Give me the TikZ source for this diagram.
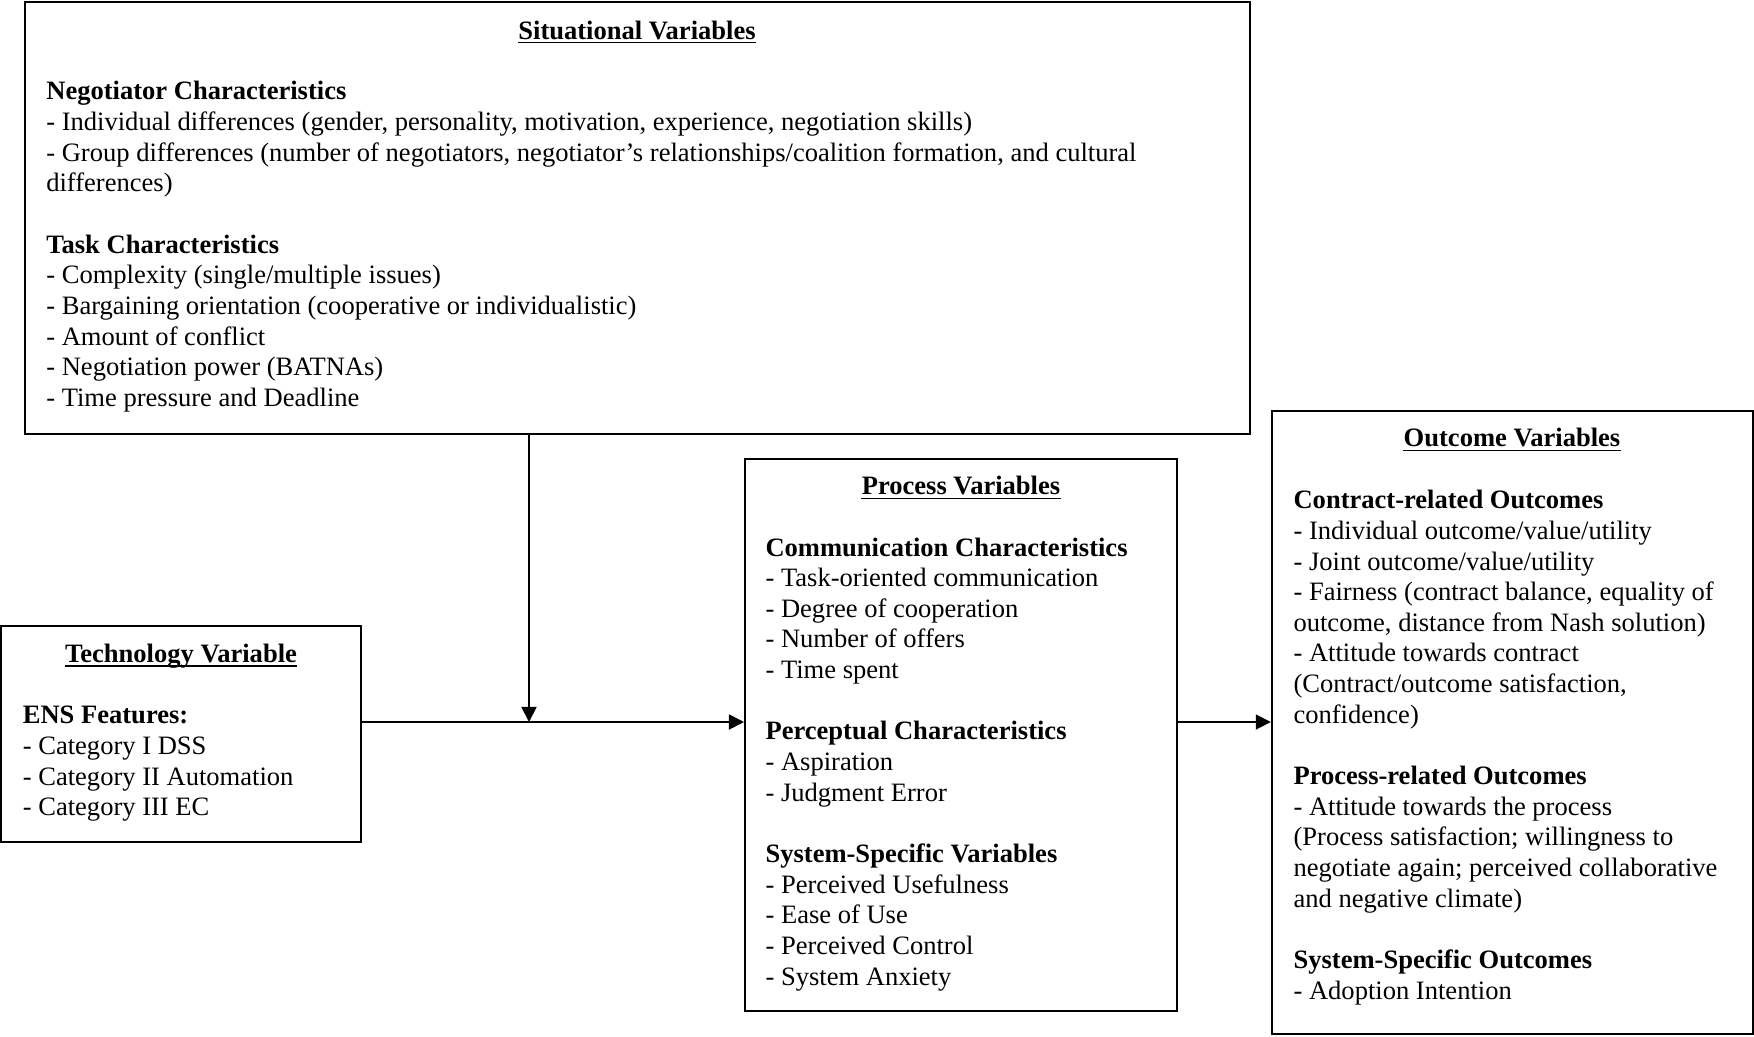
\documentclass[tikz,border=0pt]{standalone}
\usepackage{fontspec}
\setmainfont{Liberation Serif}
\usetikzlibrary{arrows.meta,fit}
\newcommand{\txtfont}{\fontsize{12pt}{13.85pt}\selectfont}
\begin{document}
\begin{tikzpicture}[x=0.452pt,y=-0.452pt,
  panel/.style={draw=black, line width=0.9pt, inner sep=0pt},
  heading/.style={font=\txtfont\bfseries, inner sep=0pt, anchor=base},
  body/.style={align=left, inner sep=0pt, anchor=base west, font=\txtfont},
  link/.style={line width=0.8pt, -{Triangle[length=6.8pt,width=6.8pt]}},
  uline/.style={line width=0.6pt}]
\useasboundingbox (0,0) rectangle (1754,1036);

% boxes
\node[panel, fit={(24.6,2.2) (1249.5,434.0)}] (sit) {};
\node[panel, fit={(1.1,626.4) (361.3,842.3)}] (tech) {};
\node[panel, fit={(745.0,458.6) (1176.8,1011.2)}] (proc) {};
\node[panel, fit={(1271.8,410.5) (1752.9,1033.6)}] (out) {};

% headings
\node[heading] (sitT) at (637,39) {Situational Variables};
\node[heading] (techT) at (181,662.3) {Technology Variable};
\node[heading] (procT) at (961,494.5) {Process Variables};
\node[heading] (outT) at (1512,446.4) {Outcome Variables};
\foreach \h in {sitT,techT,procT,outT}
  \draw[uline] ([yshift=-1.7pt]\h.base west) -- ([yshift=-1.7pt]\h.base east);

% contents (each node is placed by the baseline of its last line)
\node[body] (sitB) at (45.9,406.4) {\textbf{Negotiator Characteristics}\\
- Individual differences (gender, personality, motivation, experience, negotiation skills)\\
- Group differences (number of negotiators, negotiator’s relationships/coalition formation, and cultural\\
differences)\\[13.85pt]
\textbf{Task Characteristics}\\
- Complexity (single/multiple issues)\\
- Bargaining orientation (cooperative or individualistic)\\
- Amount of conflict\\
- Negotiation power (BATNAs)\\
- Time pressure and Deadline};

\node[body] (techB) at (22.4,815.7) {\textbf{ENS Features:}\\
- Category I DSS\\
- Category II Automation\\
- Category III EC};

\node[body] (procB) at (765.1,985) {\textbf{Communication Characteristics}\\
- Task-oriented communication\\
- Degree of cooperation\\
- Number of offers\\
- Time spent\\[13.85pt]
\textbf{Perceptual Characteristics}\\
- Aspiration\\
- Judgment Error\\[13.85pt]
\textbf{System-Specific Variables}\\
- Perceived Usefulness\\
- Ease of Use\\
- Perceived Control\\
- System Anxiety};

\node[body] (outB) at (1293.1,999) {\textbf{Contract-related Outcomes}\\
- Individual outcome/value/utility\\
- Joint outcome/value/utility\\
- Fairness (contract balance, equality of\\
outcome, distance from Nash solution)\\
- Attitude towards contract\\
(Contract/outcome satisfaction,\\
confidence)\\[13.85pt]
\textbf{Process-related Outcomes}\\
- Attitude towards the process\\
(Process satisfaction; willingness to\\
negotiate again; perceived collaborative\\
and negative climate)\\[13.85pt]
\textbf{System-Specific Outcomes}\\
- Adoption Intention};

% connectors
\coordinate (join) at (529,722);
\draw[link] (join |- sit.south) -- (join);
\draw[link] (tech.east |- join) -- (proc.west |- join);
\draw[link] (proc.east |- join) -- (out.west |- join);
\end{tikzpicture}
\end{document}
